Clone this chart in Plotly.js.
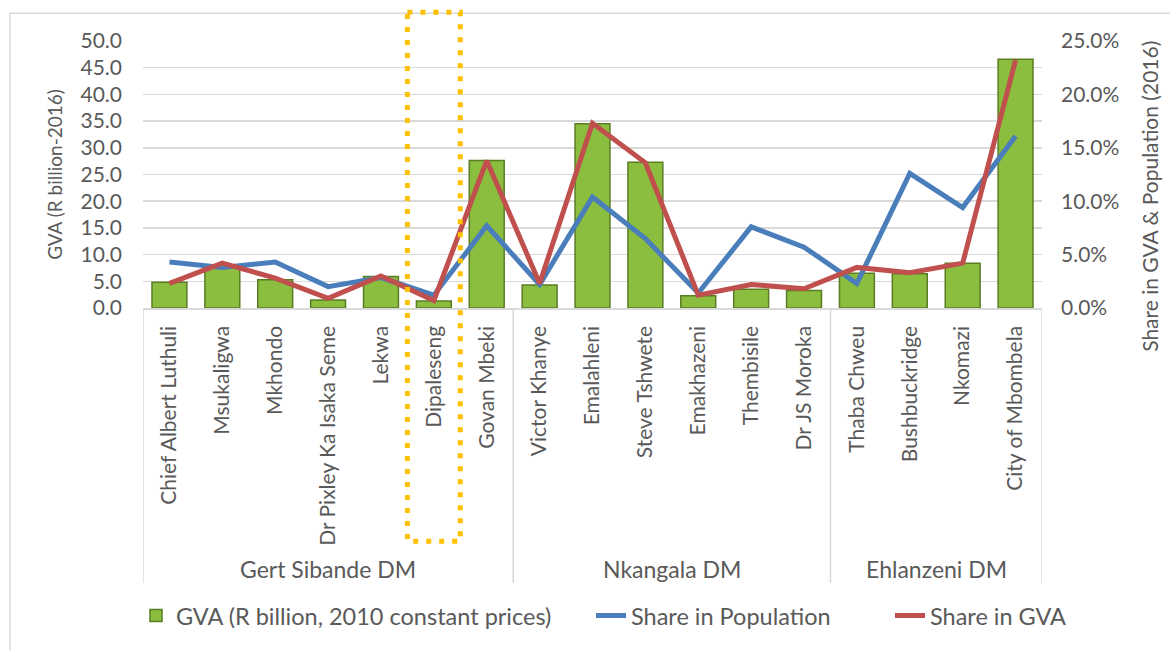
<!DOCTYPE html>
<html><head><meta charset="utf-8">
<script src="https://cdn.plot.ly/plotly-3.0.1.min.js"></script>
<style>html,body{margin:0;padding:0;background:#fff}#chart{width:1170px;height:650px}</style>
</head><body><div id="chart"></div>
<script>
const municipalities = ["Chief Albert Luthuli","Msukaligwa","Mkhondo","Dr Pixley Ka Isaka Seme","Lekwa","Dipaleseng","Govan Mbeki","Victor Khanye","Emalahleni","Steve Tshwete","Emakhazeni","Thembisile","Dr JS Moroka","Thaba Chweu","Bushbuckridge","Nkomazi","City of Mbombela"];
const districts = ["Gert Sibande DM","Nkangala DM","Ehlanzeni DM"];
const districtSizes = [7,6,4];
const gva = [4.8,7.8,5.3,1.5,5.9,1.3,27.6,4.3,34.5,27.3,2.3,3.5,3.3,6.5,6.4,8.4,46.6];
const popShare = [0.043,0.038,0.043,0.020,0.0285,0.012,0.077,0.022,0.104,0.065,0.014,0.076,0.057,0.023,0.126,0.094,0.161];
const gvaShare = [0.023,0.042,0.028,0.009,0.030,0.007,0.138,0.023,0.173,0.136,0.012,0.022,0.018,0.038,0.033,0.042,0.232];
const highlighted = "Dipaleseng";
const seriesNames = ["GVA (R billion, 2010 constant prices)","Share in Population","Share in GVA"];
const axisTitles = ["GVA (R billion-2016)","Share in GVA & Population (2016)"];

const FONT = "Lato, 'Open Sans', sans-serif";
const TXT = "#595959";
const GRID = "#d9d9d9";

// geometry helpers (pixels -> paper)
const W = 1170, H = 650, mL = 143, mR = 128, mT = 41, mB = 340;
const pw = W - mL - mR, ph = H - mT - mB;
const px2x = p => (p - mL) / pw;
const py2y = p => (H - mB - p) / ph;

const traces = [
  {type:"bar", x:municipalities, y:gva, name:seriesNames[0], yaxis:"y", legend:"legend",
   marker:{color:"#8bbd3e", line:{color:"#5a7c25", width:1.5}}},
  {type:"scatter", mode:"lines", x:municipalities, y:popShare, name:seriesNames[1], yaxis:"y2", legend:"legend2",
   line:{color:"#4a7ebb", width:5}},
  {type:"scatter", mode:"lines", x:municipalities, y:gvaShare, name:seriesNames[2], yaxis:"y2", legend:"legend3",
   line:{color:"#c0504d", width:5}}
];

const shapes = [];
const annotations = [];
// outer frame
shapes.push({type:"rect", xref:"paper", yref:"paper", x0:px2x(10), x1:px2x(1180), y0:py2y(13), y1:py2y(670),
  line:{color:GRID, width:1.5}, layer:"below"});
// district dividers and labels
let start = 0;
const bounds = [-0.5];
districts.forEach((d,i) => {
  const n = districtSizes[i];
  annotations.push({text:d, xref:"x", yref:"paper", x:start + (n-1)/2, y:py2y(573), showarrow:false,
    font:{family:FONT, size:23, color:TXT}, yanchor:"middle"});
  start += n;
  bounds.push(start - 0.5);
});
bounds.forEach(b => shapes.push({type:"line", xref:"x", yref:"paper", x0:b, x1:b, y0:0, y1:py2y(587),
  line:{color:GRID, width:1.5}}));
// right axis title
annotations.push({text:axisTitles[1], xref:"paper", yref:"paper", x:px2x(1150), y:py2y(198), textangle:-90,
  showarrow:false, xanchor:"center", yanchor:"middle", font:{family:FONT, size:21, color:TXT}});
// highlight box
const hi = municipalities.indexOf(highlighted);
shapes.push({type:"rect", xref:"x", yref:"paper", x0:hi-0.5, x1:hi+0.5, y0:py2y(12), y1:py2y(545),
  line:{color:"#ffc000", width:5, dash:"5px,8px"}, layer:"above"});

const legendBase = {orientation:"h", yanchor:"middle", xanchor:"left", y:py2y(620),
  font:{family:FONT, size:23.5, color:TXT}, bgcolor:"rgba(0,0,0,0)"};

const layout = {
  width:W, height:H,
  margin:{l:mL, r:mR, t:mT, b:mB, pad:0},
  paper_bgcolor:"#fff", plot_bgcolor:"#fff",
  font:{family:FONT, color:TXT},
  bargap:0.34,
  showlegend:true,
  legend:Object.assign({}, legendBase, {x:px2x(136)}),
  legend2:Object.assign({}, legendBase, {x:px2x(591)}),
  legend3:Object.assign({}, legendBase, {x:px2x(890)}),
  xaxis:{type:"category", range:[-0.5, municipalities.length-0.5], tickangle:-90,
    tickfont:{family:FONT, size:21, color:TXT}, showline:true, linecolor:GRID, linewidth:1.5,
    showgrid:false, ticks:"", ticklabelstandoff:8, zeroline:false},
  yaxis:{range:[0,50], dtick:5, tickformat:".1f", gridcolor:GRID, gridwidth:1.5, zeroline:false,
    showline:false, ticks:"", ticklabelstandoff:20, tickfont:{family:FONT, size:21, color:TXT},
    title:{text:axisTitles[0], font:{family:FONT, size:19, color:TXT}, standoff:12}},
  yaxis2:{overlaying:"y", side:"right", range:[0,0.25], dtick:0.05, tickformat:".1%", showgrid:false,
    zeroline:false, showline:false, ticks:"", ticklabelstandoff:18, tickfont:{family:FONT, size:21, color:TXT}},
  shapes:shapes,
  annotations:annotations
};

Plotly.newPlot("chart", traces, layout, {displayModeBar:false, staticPlot:true});
</script>
</body></html>
